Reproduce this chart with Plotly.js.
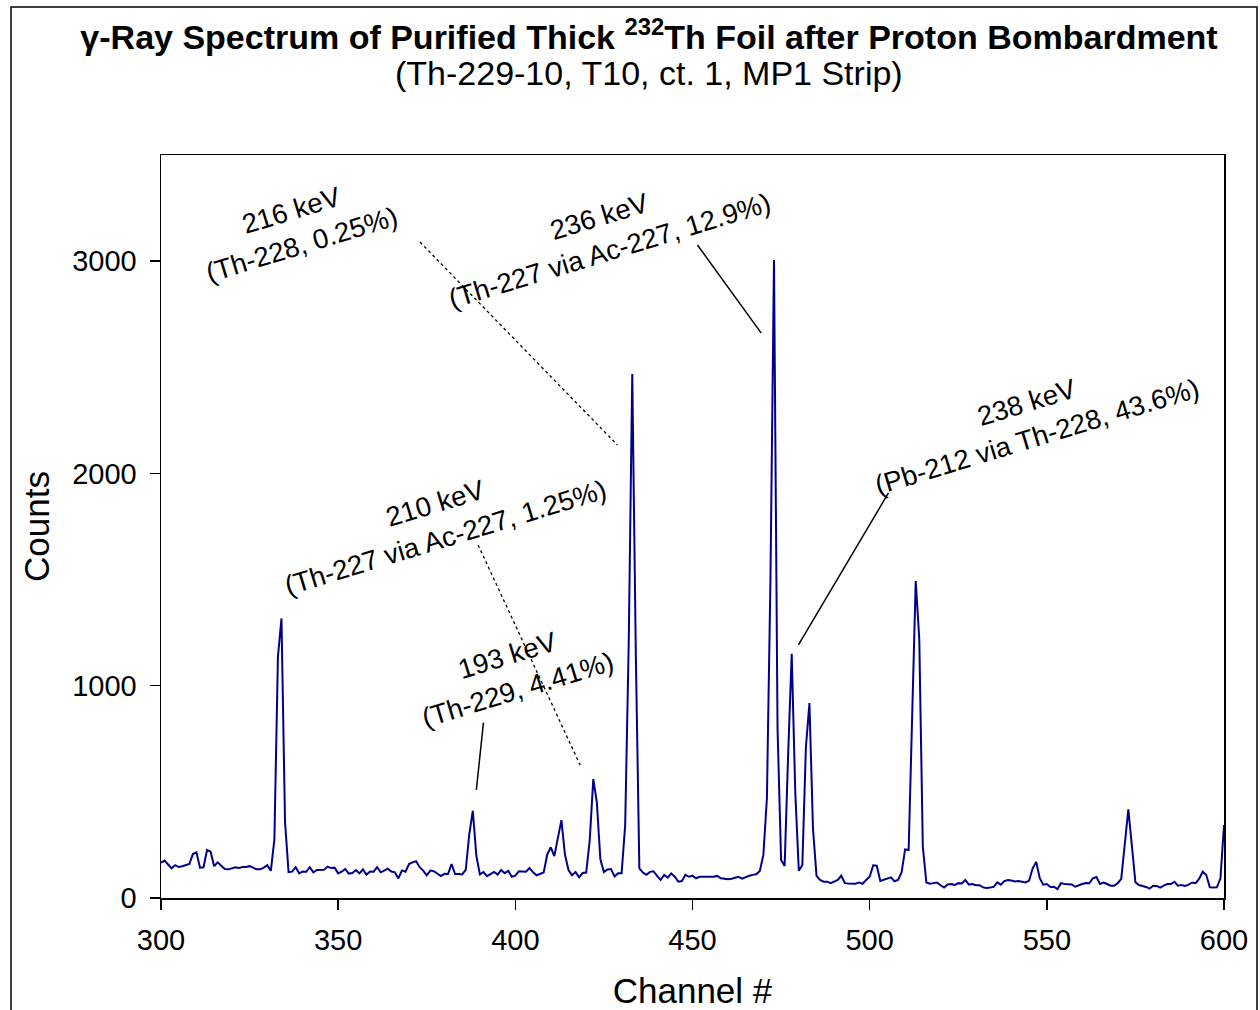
<!DOCTYPE html>
<html>
<head>
<meta charset="utf-8">
<script src="https://cdn.plot.ly/plotly-3.0.1.min.js"></script>
<style>html,body{margin:0;padding:0;background:#fff;}</style>
</head>
<body>
<div id="chart" style="width:1260px;height:1010px;"></div>
<script>
// ---- data ----
const firstChannel = 300;
const counts = [
  166,176,158,140,155,146,150,154,160,207,
  215,143,145,226,218,150,168,152,137,135,
  140,145,142,146,146,150,143,135,135,143,
  155,128,276,1137,1317,359,122,124,145,116,
  125,124,145,121,132,132,133,148,141,143,
  116,124,137,115,118,132,116,135,110,125,
  124,145,121,129,138,125,121,92,130,124,
  160,168,173,145,129,107,129,126,115,103,
  114,113,160,113,113,111,132,300,411,198,
  111,122,103,114,123,110,132,117,128,100,
  105,126,126,124,141,121,107,112,120,204,
  239,197,281,367,205,132,107,122,97,118,
  120,273,560,451,182,122,134,136,102,116,
  116,344,1200,2468,1150,140,120,109,123,126,
  104,85,109,96,116,100,77,80,109,100,
  105,93,100,99,99,100,100,104,93,91,
  88,91,96,100,91,99,105,109,112,127,
  203,470,1500,3005,800,179,151,680,1150,500,
  129,155,710,918,328,104,85,77,77,70,
  76,85,105,70,68,67,67,73,67,85,
  100,154,152,80,85,93,97,79,85,120,
  229,226,850,1493,1220,242,73,67,70,73,
  60,49,64,66,61,70,68,85,63,66,
  60,60,50,47,49,53,74,63,80,85,
  82,78,80,78,73,82,140,170,93,63,
  66,52,53,42,70,66,66,64,53,61,
  66,71,70,93,99,66,73,66,58,58,
  70,90,254,418,246,74,61,57,52,44,
  58,57,49,58,66,66,76,58,61,57,
  63,73,70,91,124,108,50,49,50,93,
  344
];
const channels = counts.map((_, i) => firstChannel + i);

const xTicks = [300, 350, 400, 450, 500, 550, 600];
const yTicks = [0, 1000, 2000, 3000];

const titleText = '<b>γ-Ray Spectrum of Purified Thick <sup>232</sup>Th Foil after Proton Bombardment</b>';
const subtitleText = '(Th-229-10, T10, ct. 1, MP1 Strip)';
const xTitle = 'Channel #';
const yTitle = 'Counts';

// peak labels
const labelTexts = [
  '216 keV<br>(Th-228, 0.25%)',
  '236 keV<br>(Th-227 via Ac-227, 12.9%)',
  '210 keV<br>(Th-227 via Ac-227, 1.25%)',
  '193 keV<br>(Th-229, 4.41%)',
  '238 keV<br>(Pb-212 via Th-228, 43.6%)'
];
const labelChannels = [338.2, 425.3, 378.8, 399.3, 545.8];
const labelCounts   = [3160, 3130, 1776, 1063, 2256];

// leader lines: start/end channel and counts, dotted or solid
const leaderX0 = [373.1, 451.4, 389.5, 391.0, 505.3];
const leaderY0 = [3090, 3076, 1663, 826, 1908];
const leaderX1 = [428.8, 469.4, 418.3, 389.0, 479.9];
const leaderY1 = [2134, 2661, 626, 509, 1192];
const leaderDotted = [true, false, true, false, false];

// ---- chart ----
const FONT = 'Arial, "Liberation Sans", Helvetica, sans-serif';

const trace = {
  x: channels,
  y: counts,
  type: 'scatter',
  mode: 'lines',
  line: {color: 'rgb(0,0,140)', width: 2},
  hoverinfo: 'x+y'
};

const annotations = labelTexts.map((t, i) => ({
  text: t,
  x: labelChannels[i], y: labelCounts[i],
  xref: 'x', yref: 'y',
  showarrow: false,
  textangle: -17,
  font: {family: FONT, size: 27.5, color: '#000'},
  align: 'center'
}));
annotations.push({
  text: subtitleText,
  xref: 'paper', yref: 'paper',
  x: (649 - 161) / 1063, y: (898 - 73) / 743,
  xanchor: 'center', yanchor: 'middle',
  showarrow: false,
  font: {family: FONT, size: 34, color: '#000'}
});

const shapes = leaderX0.map((x0, i) => ({
  type: 'line', xref: 'x', yref: 'y',
  x0: x0, y0: leaderY0[i], x1: leaderX1[i], y1: leaderY1[i],
  line: {color: '#000', width: leaderDotted[i] ? 1.3 : 1.5, dash: leaderDotted[i] ? 'dot' : 'solid'}
}));
// outer figure frame
shapes.push({
  type: 'rect', xref: 'paper', yref: 'paper',
  x0: (11 - 161) / 1063, x1: (1257 - 161) / 1063,
  y0: (898 - 1030) / 743, y1: (898 - 7) / 743,
  line: {color: '#000', width: 1.5}, fillcolor: 'rgba(0,0,0,0)'
});

const layout = {
  width: 1260, height: 1010,
  paper_bgcolor: '#fff', plot_bgcolor: '#fff',
  margin: {l: 161, r: 36, t: 155, b: 112, pad: 0},
  showlegend: false,
  font: {family: FONT, color: '#000'},
  title: {
    text: titleText,
    font: {family: FONT, size: 34, color: '#000'},
    xref: 'container', yref: 'container',
    x: 649 / 1260, xanchor: 'center',
    y: 1 - 37 / 1010, yanchor: 'middle'
  },
  xaxis: {
    range: [300, 600],
    tickvals: xTicks,
    ticktext: xTicks.map(String),
    ticks: 'outside', ticklen: 10, tickwidth: 1.5, tickcolor: '#000',
    ticklabelstandoff: 6,
    showline: true, linecolor: '#000', linewidth: 1.5, mirror: true,
    showgrid: false, zeroline: false,
    tickfont: {family: FONT, size: 29, color: '#000'},
    title: {text: xTitle, font: {family: FONT, size: 35, color: '#000'}, standoff: 26}
  },
  yaxis: {
    range: [0, 3500],
    tickvals: yTicks,
    ticktext: yTicks.map(String),
    ticks: 'outside', ticklen: 10, tickwidth: 1.5, tickcolor: '#000',
    ticklabelstandoff: 7,
    showline: true, linecolor: '#000', linewidth: 1.5, mirror: true,
    showgrid: false, zeroline: false,
    tickfont: {family: FONT, size: 29, color: '#000'},
    title: {text: yTitle, font: {family: FONT, size: 35, color: '#000'}, standoff: 12}
  },
  annotations: annotations,
  shapes: shapes
};

Plotly.newPlot('chart', [trace], layout, {displayModeBar: false, staticPlot: true});
</script>
</body>
</html>
